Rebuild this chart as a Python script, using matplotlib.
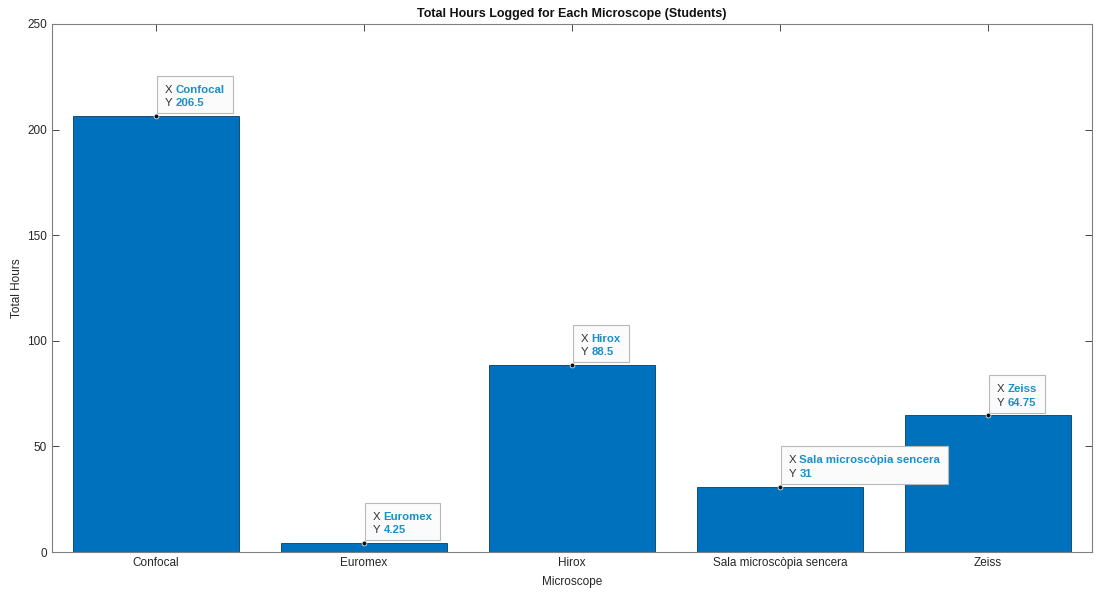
import numpy as np
import matplotlib
matplotlib.use('Agg')
import matplotlib.pyplot as plt
from matplotlib.patches import Rectangle
from matplotlib.transforms import Bbox, IdentityTransform

microscopes = ['Confocal', 'Euromex', 'Hirox', 'Sala microscòpia sencera', 'Zeiss']
hours = [206.5, 4.25, 88.5, 31, 64.75]

plt.rcParams['font.family'] = ['Liberation Sans', 'DejaVu Sans']

fig = plt.figure(figsize=(10.97, 5.96), dpi=100, facecolor='w')
ax = fig.add_axes([0.0474, 0.0738, 0.948, 0.886])

x = np.arange(len(microscopes))
ax.bar(x, hours, width=0.8, color='#0072BD', edgecolor='#0b3a63', linewidth=0.6, zorder=2)

ax.set_xlim(-0.5, len(microscopes) - 0.5)
ax.set_ylim(0, 250)
ax.set_xticks(x)
ax.set_xticklabels(microscopes)
ax.set_yticks([0, 50, 100, 150, 200, 250])
ax.tick_params(direction='in', length=5, width=0.6, colors='#262626', labelsize=8.5,
               top=True, right=True, labelcolor='#262626')
for s in ax.spines.values():
    s.set_color('#808080')
    s.set_linewidth(0.8)

ax.set_title('Total Hours Logged for Each Microscope (Students)', fontsize=9,
             fontweight='bold', color='#111111', pad=5)
ax.set_xlabel('Microscope', fontsize=8.5, color='#262626', labelpad=5)
ax.set_ylabel('Total Hours', fontsize=8.5, color='#262626', labelpad=3)

# data tips: gray X/Y labels, blue bold values, box drawn around both
tips = []
for xi, name, val in zip(x, microscopes, hours):
    vtxt = '%g' % val
    ax.plot(xi, val, 'o', ms=3.5, color='#111111', mec='white', mew=0.5, zorder=6)
    t1 = ax.annotate('X\nY', (xi, val), xytext=(6.5, 5.5),
                     textcoords='offset points', ha='left', va='bottom',
                     fontsize=8.2, color='#333333', linespacing=1.45, zorder=5)
    t2 = ax.annotate(name + '\n' + vtxt, (xi, val), xytext=(14, 5.5),
                     textcoords='offset points', ha='left', va='bottom',
                     fontsize=8.2, fontweight='bold', color='#1a8fc9',
                     linespacing=1.45, zorder=5)
    tips.append((t1, t2))

fig.canvas.draw()
r = fig.canvas.get_renderer()
for t1, t2 in tips:
    bb = Bbox.union([t1.get_window_extent(r), t2.get_window_extent(r)])
    box = Rectangle((bb.x0 - 8, bb.y0 - 5), bb.width + 16, bb.height + 14,
                    transform=IdentityTransform(), fc='#fbfbfb', ec='#b8b8b8',
                    lw=0.8, zorder=4, clip_on=False)
    ax.add_patch(box)

fig.savefig('out.png', dpi=100, facecolor='w')
